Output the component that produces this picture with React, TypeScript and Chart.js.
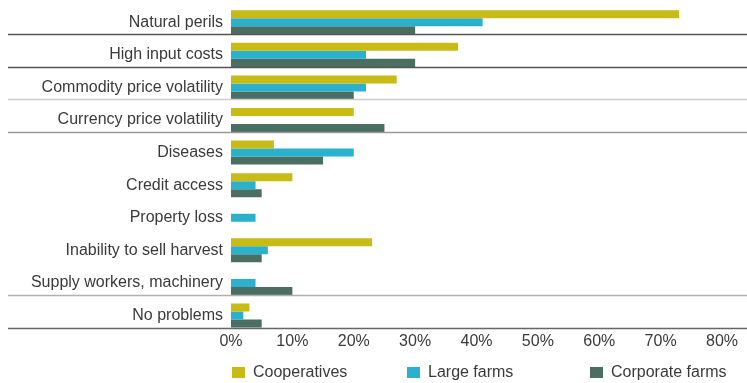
import React, { useEffect, useRef } from 'react';
import { Chart, registerables } from 'chart.js';

Chart.register(...registerables);

const categories = [
  'Natural perils',
  'High input costs',
  'Commodity price volatility',
  'Currency price volatility',
  'Diseases',
  'Credit access',
  'Property loss',
  'Inability to sell harvest',
  'Supply workers, machinery',
  'No problems',
];
const seriesNames = ['Cooperatives', 'Large farms', 'Corporate farms'];
const cooperatives = [73, 37, 27, 20, 7, 10, 0, 23, 0, 3];
const largeFarms = [41, 22, 22, 0, 20, 4, 4, 6, 4, 2];
const corporateFarms = [30, 30, 20, 25, 15, 5, 0, 5, 10, 5];
const seriesColors = ['#c8bb16', '#29b1cd', '#4b6e63'];
const xTickValues = [0, 10, 20, 30, 40, 50, 60, 70, 80];
const separatorRows = [0, 1, 2, 3, 8, 9];
const separatorColors = ['#555555', '#555555', '#cccccc', '#9a9a9a', '#b0b0b0', '#666666'];
const legendLeft = [232, 407, 590];

const FONT = '"Liberation Sans", Arial, sans-serif';
const TEXT = '#3a3a3a';

const separatorPlugin = {
  id: 'separators',
  afterDatasetsDraw(chart: any) {
    const meta = chart.getDatasetMeta(2);
    const ctx = chart.ctx;
    separatorRows.forEach((row, k) => {
      const el = meta.data[row];
      if (!el) return;
      const y = Math.round(el.y + el.height / 2) + 0.5;
      ctx.save();
      ctx.strokeStyle = separatorColors[k];
      ctx.lineWidth = 1.5;
      ctx.beginPath();
      ctx.moveTo(8, y);
      ctx.lineTo(chart.width, y);
      ctx.stroke();
      ctx.restore();
    });
  },
};

export default function App() {
  const ref = useRef<HTMLCanvasElement>(null);
  useEffect(() => {
    document.body.style.margin = '0';
    const data = [cooperatives, largeFarms, corporateFarms];
    const chart = new Chart(ref.current!, {
      type: 'bar',
      data: {
        labels: categories,
        datasets: seriesNames.map((name, i) => ({
          label: name,
          data: data[i],
          backgroundColor: seriesColors[i],
          borderWidth: 0,
          categoryPercentage: 0.737,
          barPercentage: 1.0,
        })),
      },
      options: {
        indexAxis: 'y',
        animation: false,
        responsive: false,
        maintainAspectRatio: false,
        layout: { padding: { top: 6, right: 25, bottom: 32, left: 0 } },
        plugins: {
          legend: { display: false },
          tooltip: { enabled: false },
        },
        scales: {
          x: {
            min: 0,
            max: 80,
            afterBuildTicks: (scale: any) => {
              scale.ticks = xTickValues.map((v) => ({ value: v }));
            },
            grid: { display: false, drawTicks: false },
            border: { display: false },
            ticks: {
              color: TEXT,
              padding: 0,
              font: { family: FONT, size: 16 },
              callback: (v: any) => v + '%',
            },
          },
          y: {
            grid: { display: false, drawTicks: false },
            border: { display: false },
            afterFit: (scale: any) => {
              scale.width = 231;
              scale.paddingTop = 0;
              scale.paddingBottom = 0;
            },
            ticks: {
              autoSkip: false,
              color: TEXT,
              padding: 8,
              font: { family: FONT, size: 16 },
            },
          },
        },
      },
      plugins: [separatorPlugin],
    });
    return () => chart.destroy();
  }, []);
  return (
    <div style={{ position: 'relative', width: 747, height: 383 }}>
      <canvas ref={ref} width={747} height={383} style={{ width: 747, height: 383, display: 'block' }} />
      {seriesNames.map((name, i) => (
        <div
          key={name}
          style={{
            position: 'absolute',
            left: legendLeft[i],
            top: 363,
            height: 18,
            display: 'flex',
            alignItems: 'center',
            fontFamily: FONT,
            fontSize: 16,
            color: TEXT,
            whiteSpace: 'nowrap',
          }}
        >
          <span style={{ display: 'inline-block', width: 13, height: 11, background: seriesColors[i], marginRight: 8 }} />
          {name}
        </div>
      ))}
    </div>
  );
}
